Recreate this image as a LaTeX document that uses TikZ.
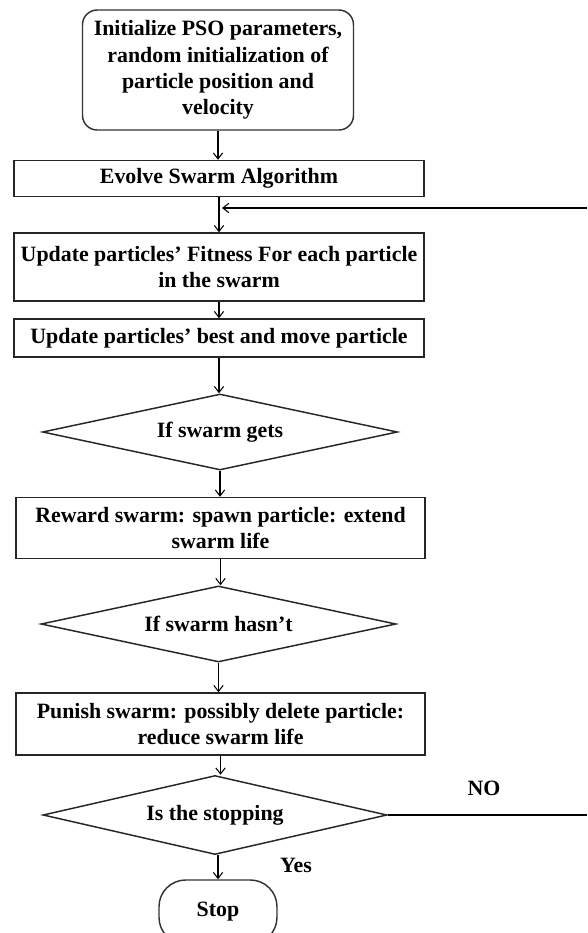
\documentclass[tikz,border=0pt]{standalone}
\usepackage{fontspec}
\setmainfont{Liberation Serif}
\usetikzlibrary{arrows.meta,shapes.geometric}

\begin{document}
\begin{tikzpicture}[x=0.75pt,y=-0.75pt,
  every node/.style={font=\fontsize{16.4}{19.8}\selectfont\bfseries, text=black, inner sep=0pt},
  procbox/.style={draw=black!85, line width=1.1pt, rectangle, align=center, minimum width=307.5pt},
  startbox/.style={draw=black!80, line width=1.1pt, rectangle, rounded corners=11pt, align=center,
                   minimum width=203.25pt, minimum height=90pt},
  decision/.style={draw=black!85, line width=1.1pt, diamond, aspect=4.6, align=center},
  stopbox/.style={draw=black!80, line width=1.1pt, rectangle, rounded corners=20pt,
                  minimum width=88.5pt, minimum height=48pt},
  arr/.style={draw=black, line width=0.8pt, -{Straight Barb[length=4.5pt,width=7pt]}},
  plain/.style={draw=black, line width=0.9pt},
  lbl/.style={font=\fontsize{16.4}{19.8}\selectfont\bfseries}
]
\useasboundingbox (0,0) rectangle (587,933);
\clip (0,0) rectangle (587,933);
\fill[white] (0,0) rectangle (587,933);

% process steps
\node[startbox] (start) at (218,70)
  {Initialize PSO parameters,\\random initialization of\\particle position and\\velocity};
\node[procbox, minimum height=27pt] (evolve) at (219,178.5) {Evolve Swarm Algorithm};
\node[procbox, minimum height=51pt] (fitness) at (219,267)
  {Update particles’ Fitness For each particle\\in the swarm};
\node[procbox, minimum height=28.5pt] (best) at (219,338)
  {Update particles’ best and move particle};
\node[decision, minimum width=266.25pt, minimum height=57pt] (d1) at (220,432) {If swarm gets};
\node[procbox, minimum width=306.75pt, minimum height=45.75pt] (reward) at (220.5,528)
  {Reward swarm: spawn particle: extend\\swarm life};
\node[decision, minimum width=266.25pt, minimum height=57pt] (d2) at (218.5,624) {If swarm hasn’t};
\node[procbox, minimum width=306.75pt, minimum height=46.5pt] (punish) at (220.5,724)
  {Punish swarm: possibly delete particle:\\reduce swarm life};
\node[decision, minimum width=258pt, minimum height=59.25pt] (d3) at (215,815) {Is the stopping};
\node[stopbox] (stop) at (218,912) {Stop};

% labels on the exits of the last test
\node[lbl] (yes) at (296,865) {Yes};
\node[lbl] (no) at (484,788) {NO};

% loop-back path
\coordinate (loopR) at (587,208);
\coordinate (loopL) at (222,208);
\coordinate (noR) at (587,815);

% connectors
\draw[arr] (start.south) -- (start.south |- evolve.north);
\draw[arr] (evolve.south) -- (evolve.south |- fitness.north);
\draw[arr] (loopR) -- (loopL);
\draw[arr] (fitness.south) -- (fitness.south |- best.north);
\draw[arr] (best.south) -- (best.south |- d1.north);
\draw[arr] (d1.south) -- (d1.south |- reward.north);
\draw[arr] (reward.south) -- (reward.south |- d2.north);
\draw[arr] (d2.south) -- (d2.south |- punish.north);
\draw[arr] (punish.south) -- (punish.south |- d3.north);
\draw[arr] (d3.south -| stop.north) -- (stop.north);
\draw[plain] (d3.east) -- (noR);
\end{tikzpicture}
\end{document}
